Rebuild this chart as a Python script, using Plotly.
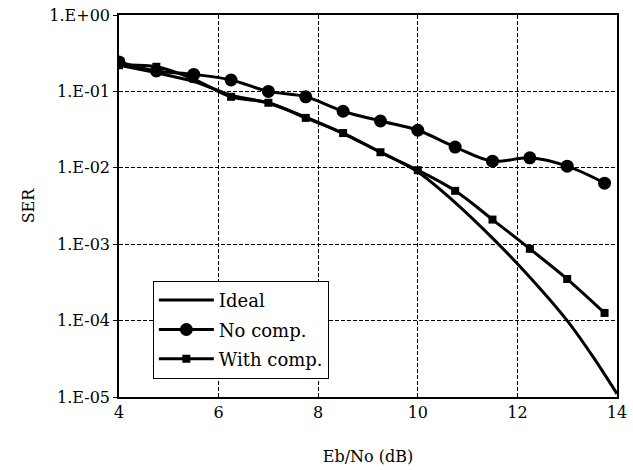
import plotly.graph_objects as go

ebno = [4, 4.75, 5.5, 6.25, 7, 7.75, 8.5, 9.25, 10, 10.75, 11.5, 12.25, 13, 13.75]
ideal_x = [4, 4.75, 5.5, 6.25, 7, 7.75, 8.5, 9.25, 10, 10.75, 11.5, 12.25, 13, 13.5, 14]
ideal = [0.22, 0.175, 0.135, 0.09, 0.07, 0.046, 0.028, 0.016, 0.0088, 0.0035, 0.0012,
         0.00037, 0.0001, 0.000035, 0.000011]
no_comp = [0.243, 0.185, 0.167, 0.141, 0.10, 0.085, 0.055, 0.041, 0.031, 0.0187,
           0.0122, 0.0135, 0.0105, 0.0063]
with_comp = [0.22, 0.21, 0.145, 0.085, 0.071, 0.045, 0.0285, 0.016, 0.0093, 0.0050,
             0.0021, 0.00087, 0.00035, 0.000126]
ytick_vals = [1, 0.1, 0.01, 0.001, 0.0001, 0.00001]
ytick_text = ["1.E+00", "1.E-01", "1.E-02", "1.E-03", "1.E-04", "1.E-05"]
xtick_vals = [4, 6, 8, 10, 12, 14]

FONT = "DejaVu Serif"

fig = go.Figure()
fig.add_trace(go.Scatter(x=ideal_x, y=ideal, name="Ideal", mode="lines", legendgroup="a",
                         line=dict(color="black", width=3, shape="spline")))
fig.add_trace(go.Scatter(x=ebno, y=no_comp, name="No comp.", mode="lines+markers",
                         legendgroup="b",
                         line=dict(color="black", width=3, shape="spline"),
                         marker=dict(symbol="circle", size=13, color="black")))
fig.add_trace(go.Scatter(x=ebno, y=with_comp, name="With comp.", mode="lines+markers",
                         legendgroup="c",
                         line=dict(color="black", width=3, shape="spline"),
                         marker=dict(symbol="square", size=8, color="black")))

fig.update_layout(
    width=633, height=470,
    margin=dict(l=119, r=16, t=15, b=73),
    paper_bgcolor="white", plot_bgcolor="white",
    font=dict(family=FONT, size=16, color="black"),
    showlegend=True,
    legend=dict(x=0.068, y=0.304, xanchor="left", yanchor="top",
                bgcolor="white", bordercolor="black", borderwidth=1,
                font=dict(family=FONT, size=18, color="black"),
                itemwidth=55, tracegroupgap=3),
)
fig.update_xaxes(range=[4, 14], tickvals=xtick_vals, showgrid=True, automargin=False,
                 gridcolor="black", gridwidth=1, griddash="4px,2px",
                 showline=True, linecolor="black", linewidth=1.5, mirror=True,
                 ticks="", zeroline=False,
                 title=dict(text="Eb/No (dB)", standoff=30,
                            font=dict(family=FONT, size=16)),
                 tickfont=dict(family=FONT, size=16))
fig.update_yaxes(type="log", range=[-5, 0], tickvals=ytick_vals, ticktext=ytick_text,
                 showgrid=True, gridcolor="black", gridwidth=1, griddash="4px,2px",
                 automargin=False,
                 showline=True, linecolor="black", linewidth=1.5, mirror=True,
                 ticks="outside", ticklen=4, tickcolor="black", zeroline=False,
                 title=dict(text="SER", standoff=11,
                            font=dict(family=FONT, size=16)),
                 tickfont=dict(family=FONT, size=16))

fig.write_html("out.html")
